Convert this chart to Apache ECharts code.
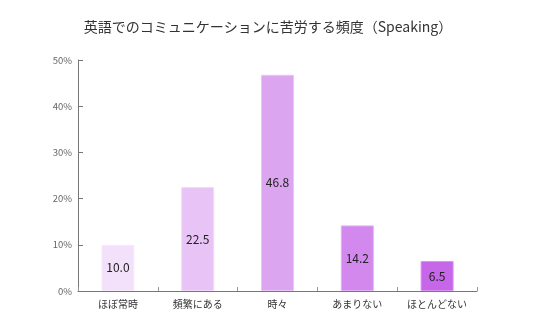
<!DOCTYPE html>
<html><head><meta charset="utf-8">
<script src="https://cdn.jsdelivr.net/npm/echarts@6/dist/echarts.min.js"></script>
<style>html,body{margin:0;padding:0;background:#fff}#c{width:536px;height:330px}</style>
</head><body><div id="c"></div>
<script>
const titleText = '英語でのコミュニケーションに苦労する頻度（Speaking）';
const categories = ['ほぼ常時', '頻繁にある', '時々', 'あまりない', 'ほとんどない'];
const values = [10.0, 22.5, 46.8, 14.2, 6.5];
const barColors = ['#f3e0fa', '#e8c4f6', '#dca5f0', '#d388ed', '#c666e9'];
const borderColors = ['#f7ecfc', '#f0d9fa', '#e8c6f5', '#e2b1f3', '#d994ef'];
const yTicks = [0, 10, 20, 30, 40, 50];
const font = '"Noto Sans CJK JP", "Noto Sans", sans-serif';

const chart = echarts.init(document.getElementById('c'), null, {renderer: 'canvas'});
chart.setOption({
  animation: false,
  backgroundColor: '#fff',
  title: {
    text: titleText, left: 'center', top: 15,
    textStyle: {fontFamily: font, fontSize: 14, fontWeight: 'normal', color: '#333'}
  },
  grid: {left: 78, right: 59, top: 60, bottom: 39},
  xAxis: {
    type: 'category', data: categories,
    axisLine: {lineStyle: {color: '#777', width: 1}},
    axisTick: {show: true, inside: true, length: 4, lineStyle: {color: '#999'}},
    axisLabel: {fontFamily: font, fontSize: 10, color: '#333', margin: 8}
  },
  yAxis: {
    type: 'value', min: yTicks[0], max: yTicks[yTicks.length - 1], interval: 10,
    axisLine: {show: true, lineStyle: {color: '#777', width: 1}},
    axisTick: {show: true, inside: true, length: 5, lineStyle: {color: '#777'}},
    splitLine: {show: false},
    axisLabel: {fontFamily: font, fontSize: 9.5, color: '#666', margin: 6, formatter: v => v + '%'}
  },
  series: [{
    type: 'bar', barWidth: 33,
    data: values.map((v, i) => ({value: v, itemStyle: {color: barColors[i], borderColor: borderColors[i], borderWidth: 1}})),
    label: {show: true, position: 'inside', fontFamily: font, fontSize: 12, color: '#222', formatter: p => p.value.toFixed(1)}
  }]
});
</script></body></html>
